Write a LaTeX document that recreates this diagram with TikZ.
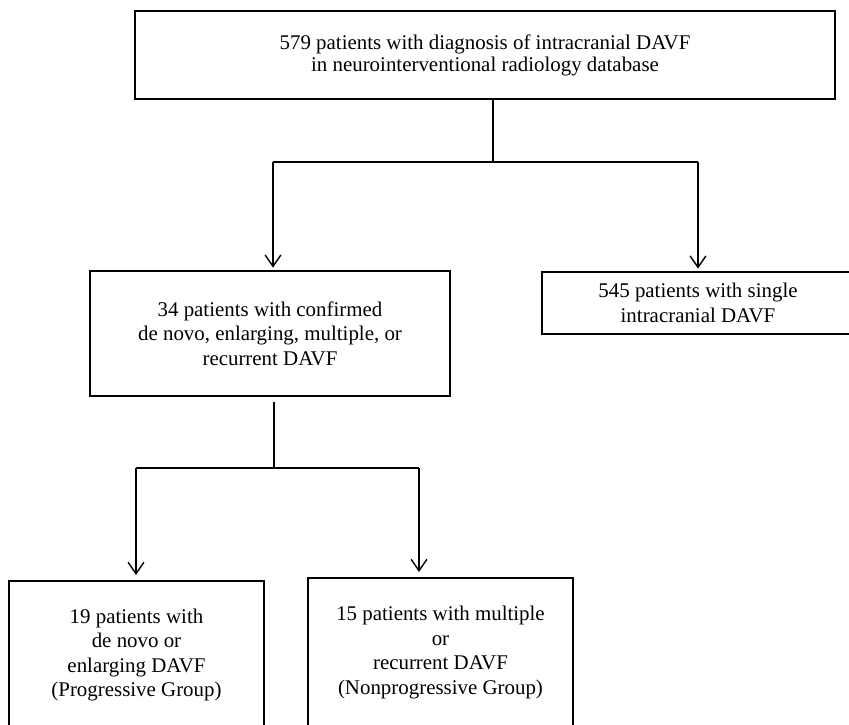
\documentclass[tikz,border=0pt]{standalone}
\usepackage{fontspec}
\setmainfont{Liberation Serif}
\usetikzlibrary{arrows.meta}
\tikzset{box/.style={draw,line width=0.9pt,align=center,inner sep=0pt,font=\fontsize{11.9}{13.9}\selectfont},
         link/.style={line width=0.8pt},
         arr/.style={line width=0.8pt,-{Straight Barb[length=6.5pt,width=9pt]}},
        }

\begin{document}
\begin{tikzpicture}[x=0.02cm,y=-0.02cm]
        \useasboundingbox (0,0) rectangle (849,724);

        \node[box, minimum width=14cm, minimum height=1.76cm, font=\fontsize{11.9}{12.5}\selectfont](db)at(485,55){579 patients with diagnosis of intracranial DAVF\\in neurointerventional radiology database};
        \node[box, minimum width=7.2cm, minimum height=2.5cm](grp)at(270,333.5){34 patients with confirmed\\de novo, enlarging, multiple, or\\recurrent DAVF};
        \node[box, minimum width=6.24cm, minimum height=1.24cm](sgl)at(698,303){545 patients with single\\intracranial DAVF};
        \node[box, minimum width=5.1cm, minimum height=2.96cm](prog)at(136.5,655){19 patients with\\de novo or\\enlarging DAVF\\(Progressive Group)};
        \node[box, minimum width=5.3cm, minimum height=2.98cm](nprog)at(440.5,652.5){15 patients with multiple\\or\\recurrent DAVF\\(Nonprogressive Group)};

        % first split
        \coordinate (s1)at(493,162);
        \coordinate (s1l)at(273,162);
        \coordinate (s1r)at(698,162);
        \draw[link](db.south -| s1)--(s1);
        \draw[link](s1l)--(s1r);
        \draw[arr, shorten >=1.5pt](s1l)--(s1l |- grp.north);
        \draw[arr, shorten >=1.5pt](s1r)--(s1r |- sgl.north);

        % second split
        \coordinate (s2)at(274,468);
        \coordinate (s2l)at(136,468);
        \coordinate (s2r)at(419,468);
        \draw[link, shorten <=3pt](grp.south -| s2)--(s2);
        \draw[link](s2l)--(s2r);
        \draw[arr, shorten >=3pt](s2l)--(s2l |- prog.north);
        \draw[arr, shorten >=3pt](s2r)--(s2r |- nprog.north);
    \end{tikzpicture}
\end{document}
